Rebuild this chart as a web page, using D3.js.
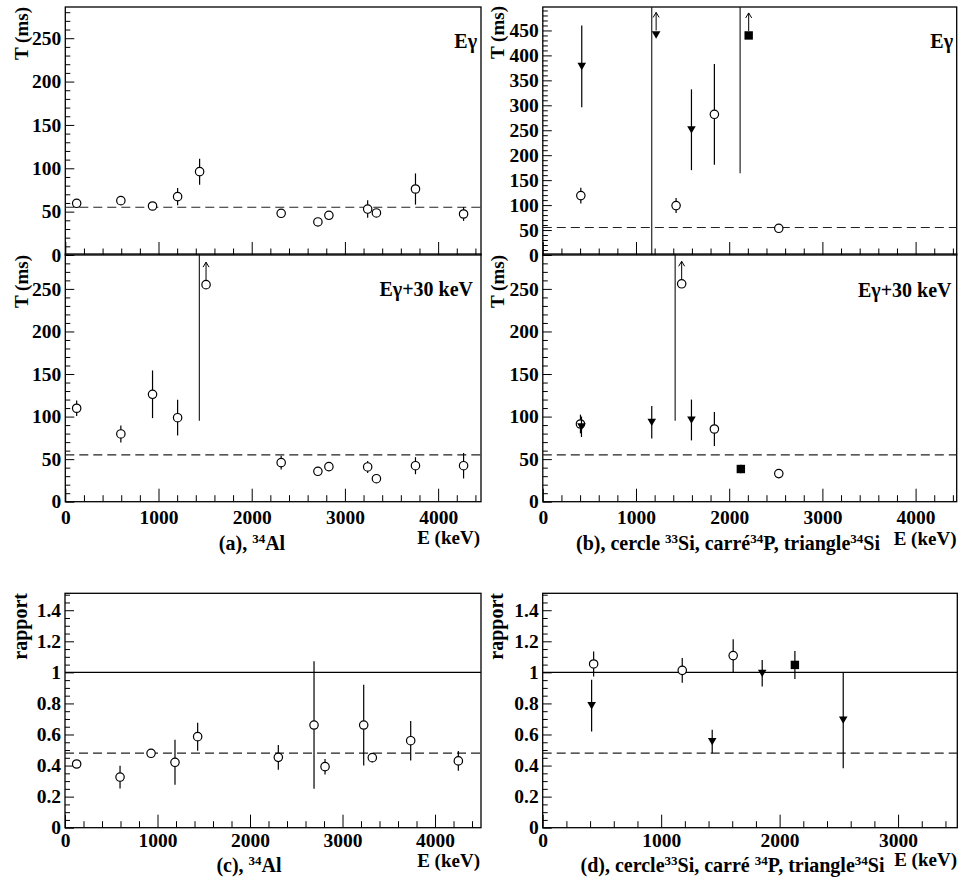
<!DOCTYPE html>
<html>
<head>
<meta charset="utf-8">
<script src="https://cdn.jsdelivr.net/npm/d3@7"></script>
<style>
  html, body { margin: 0; padding: 0; background: #fff; }
  svg { display: block; }
  svg text { font-family: "Liberation Serif", "Times New Roman", Times, serif !important; font-weight: bold; }
</style>
</head>
<body>
<script>
// ---------------- DATA ----------------
// Panel (a): 34Al, T (ms) vs E (keV)
const eAl      = [122, 596, 936, 1205, 1441, 2316, 2710, 2828, 3244, 3338, 3757, 4273];
const tAlEg    = [59.6, 62.7, 56.5, 67.3, 96.1, 48.1, 38.1, 45.8, 53.0, 48.5, 76.1, 47.3];
const errAlEg  = [3, 3, 3, 10, 15, 3, 3, 3, 10, 3, 18, 8];
const tAl30    = [109.8, 79.6, 126.2, 98.7, null, 45.9, 35.7, 41.2, 40.8, 27.0, 42.3, 42.3];
const errAl30  = [9, 10, 28, 21, null, 8, 2, 2, 7, 2, 10, 15];
// off-scale point in (a) E+30 : lower bound of its error bar, and its arrow indicator
const offAl30E = [1438], offAl30Low = [95];
const indAl30E = [1510], indAl30T = [255];

// Panel (b): Eγ  (circle 33Si, square 34P, triangle 34Si)
const eSi33Eg = [408, 1430, 1841, 2532], tSi33Eg = [119, 99, 282, 53.5], errSi33Eg = [16, 15, 101, 3];
const eSi34Eg = [418, 1595],             tSi34Eg = [378, 251],           errSi34Eg = [82, 81];
const offSi34EgE = [1169], offSi34EgLow = [-10];
const indSi34EgE = [1216], indSi34EgT = [441];
const offP34EgE = [2117], offP34EgLow = [164];
const indP34EgE = [2209], indP34EgT = [440];

// Panel (b): Eγ+30 keV
const eSi33_30 = [404, 1841, 2532], tSi33_30 = [91.3, 85.4, 33], errSi33_30 = [11, 20, 2];
const eSi34_30 = [415, 1169, 1595], tSi34_30 = [88, 93.3, 96],  errSi34_30 = [12, 19, 24];
const eP34_30  = [2125],            tP34_30  = [38.4],          errP34_30  = [5];
const offSi33_30E = [1420], offSi33_30Low = [95];
const indSi33_30E = [1490], indSi33_30T = [256];

// Panel (c): ratio 34Al
const eAlR   = [126, 595, 930, 1189, 1434, 2306, 2692, 2811, 3229, 3322, 3737, 4252];
const rAl    = [0.410, 0.326, 0.479, 0.421, 0.586, 0.453, 0.661, 0.393, 0.661, 0.451, 0.560, 0.430];
const errRAl = [0.02, 0.073, 0.02, 0.145, 0.09, 0.08, 0.41, 0.05, 0.26, 0.03, 0.127, 0.063];

// Panel (d): ratio
const eSi33R = [430, 1178, 1608],        rSi33 = [1.054, 1.013, 1.108],        errRSi33 = [0.08, 0.08, 0.105];
const eSi34R = [413, 1431, 1853, 2537],  rSi34 = [0.786, 0.555, 0.994, 0.693], errRSi34 = [0.167, 0.075, 0.085, 0.31];
const eP34R  = [2129],                   rP34  = [1.048],                      errRP34  = [0.09];

// reference lines
const tRef = 55, ratioRef = 0.48, unity = 1;

// tick label values
const tTicksA = [0, 50, 100, 150, 200, 250];
const tTicksB = [0, 50, 100, 150, 200, 250, 300, 350, 400, 450];
const rTicks  = [0, 0.2, 0.4, 0.6, 0.8, 1, 1.2, 1.4];
const eTicks  = [0, 1000, 2000, 3000, 4000];
const eTicksD = [0, 1000, 2000, 3000];

// ---------------- DRAW ----------------
const W = 959, H = 880;
const TICK_FS = 19.5;
const svg = d3.select("body").append("svg").attr("width", W).attr("height", H)
  .style("font-family", '"Liberation Serif", "Times New Roman", serif').style("font-weight", "bold");
svg.append("rect").attr("width", W).attr("height", H).attr("fill", "#fff");

function range(a, b, s) { const out = []; for (let v = a; v <= b + 1e-9; v += s) out.push(+v.toFixed(6)); return out; }

function makePanel(o) {
  const x = d3.scaleLinear().domain([0, o.xmax]).range([o.x0, o.x1]);
  const y = d3.scaleLinear().domain([0, o.ymax]).range([o.y1, o.y0]);
  const g = svg.append("g");
  const fmt = v => (+v.toFixed(3)).toString();
  const yMinor = range(0, o.ymax, o.yMinor).filter(v => !o.yTicks.some(t => Math.abs(t - v) < 1e-6));
  g.append("g").attr("transform", `translate(${o.x0},0)`)
    .call(d3.axisLeft(y).tickValues(yMinor).tickSize(-5).tickFormat(""))
    .call(s => s.select(".domain").remove());
  g.append("g").attr("transform", `translate(${o.x0},0)`)
    .call(d3.axisLeft(y).tickValues(o.yTicks).tickSize(-9).tickPadding(4).tickFormat(o.yLabels ? fmt : ""))
    .call(s => s.select(".domain").remove())
    .attr("font-size", TICK_FS)
    .call(s => s.selectAll("text").attr("fill", "#000"));
  const xMinor = range(0, o.xmax, 200).filter(v => v % 1000 !== 0);
  g.append("g").attr("transform", `translate(0,${o.y1})`)
    .call(d3.axisBottom(x).tickValues(xMinor).tickSize(-6.5).tickFormat(""))
    .call(s => s.select(".domain").remove());
  g.append("g").attr("transform", `translate(0,${o.y1})`)
    .call(d3.axisBottom(x).tickValues(o.xTicks).tickSize(-13).tickPadding(o.xPad || 8).tickFormat(o.xLabels ? fmt : ""))
    .call(s => s.select(".domain").remove())
    .attr("font-size", TICK_FS)
    .call(s => s.selectAll("text").attr("fill", "#000"));
  g.selectAll(".tick line").attr("stroke", "#000").attr("stroke-width", 1);
  g.append("rect").attr("x", o.x0).attr("y", o.y0).attr("width", o.x1 - o.x0).attr("height", o.y1 - o.y0)
    .attr("fill", "none").attr("stroke", "#000").attr("stroke-width", 1.3);
  return { x, y, g, o };
}

function hline(p, v, dashed) {
  p.g.append("line").attr("x1", p.o.x0).attr("x2", p.o.x1).attr("y1", p.y(v)).attr("y2", p.y(v))
    .attr("stroke", dashed ? "#222" : "#000").attr("stroke-width", 1.1)
    .attr("stroke-dasharray", dashed ? "9,5" : null);
}

function clampY(p, v) { return Math.max(p.o.y0, Math.min(p.o.y1, p.y(v))); }

function marker(p, cx, cy, shape) {
  if (shape === "circle") {
    p.g.append("circle").attr("cx", cx).attr("cy", cy).attr("r", 4.2)
      .attr("fill", "#fff").attr("stroke", "#000").attr("stroke-width", 1.2);
  } else if (shape === "tri") {
    p.g.append("path").attr("d", `M${cx - 4.3},${cy - 3.6}L${cx + 4.3},${cy - 3.6}L${cx},${cy + 3.8}Z`).attr("fill", "#000");
  } else {
    p.g.append("rect").attr("x", cx - 4.2).attr("y", cy - 4.2).attr("width", 8.4).attr("height", 8.4).attr("fill", "#000");
  }
}

function series(p, es, vs, errs, shape) {
  es.forEach((e, i) => {
    if (vs[i] == null) return;
    const cx = p.x(e);
    p.g.append("line").attr("x1", cx).attr("x2", cx)
      .attr("y1", clampY(p, vs[i] - errs[i])).attr("y2", clampY(p, vs[i] + errs[i]))
      .attr("stroke", "#000").attr("stroke-width", 1.2);
  });
  es.forEach((e, i) => {
    if (vs[i] == null) return;
    marker(p, p.x(e), p.y(vs[i]), shape);
  });
}

function offscale(p, es, lows) {
  es.forEach((e, i) => {
    const cx = p.x(e);
    p.g.append("line").attr("x1", cx).attr("x2", cx).attr("y1", clampY(p, lows[i])).attr("y2", p.o.y0)
      .attr("stroke", "#111").attr("stroke-width", 1.1);
  });
}

function indicator(p, es, vs, shape) {
  es.forEach((e, i) => {
    const cx = p.x(e), cy = p.y(vs[i]);
    const top = cy - 4.5 - 18, bot = cy - 4.5;
    p.g.append("line").attr("x1", cx).attr("x2", cx).attr("y1", bot).attr("y2", top)
      .attr("stroke", "#000").attr("stroke-width", 1);
    p.g.append("path").attr("d", `M${cx - 3},${top + 5}L${cx},${top}L${cx + 3},${top + 5}`)
      .attr("fill", "none").attr("stroke", "#000").attr("stroke-width", 1);
    marker(p, cx, cy, shape);
  });
}

function text(x, y, str, size, anchor) {
  return svg.append("text").attr("x", x).attr("y", y).attr("font-size", size)
    .attr("text-anchor", anchor || "start").attr("fill", "#000").text(str);
}
function vtitle(x, y, str, size) {
  svg.append("text").attr("transform", `translate(${x},${y}) rotate(-90)`)
    .attr("text-anchor", "end").attr("font-size", size).attr("fill", "#000").text(str);
}
function caption(x, y, parts) {
  const t = svg.append("text").attr("x", x).attr("y", y).attr("text-anchor", "middle")
    .attr("font-size", 20).attr("fill", "#000");
  let sup = false;
  parts.forEach(([s, isSup]) => {
    const dy = isSup && !sup ? -7 : (!isSup && sup ? 7 : 0);
    t.append("tspan").attr("dy", dy).attr("font-size", isSup ? 13 : 20).text(s);
    sup = isSup;
  });
}

// ---- panel a top
const pA1 = makePanel({ x0: 65.3, x1: 481, y0: 7, y1: 255, xmax: 4460, ymax: 286,
  yTicks: tTicksA, yMinor: 10, yLabels: true, xTicks: eTicks, xLabels: false });
hline(pA1, tRef, true);
series(pA1, eAl, tAlEg, errAlEg, "circle");

// ---- panel a bottom
const pA2 = makePanel({ x0: 65.3, x1: 481, y0: 254, y1: 501.7, xmax: 4460, ymax: 291,
  yTicks: tTicksA, yMinor: 10, yLabels: true, xTicks: eTicks, xLabels: true, xPad: 8 });
hline(pA2, tRef, true);
offscale(pA2, offAl30E, offAl30Low);
series(pA2, eAl, tAl30, errAl30, "circle");
indicator(pA2, indAl30E, indAl30T, "circle");

// ---- panel b top
const pB1 = makePanel({ x0: 542.8, x1: 956.7, y0: 7, y1: 255, xmax: 4441, ymax: 497,
  yTicks: tTicksB, yMinor: 10, yLabels: true, xTicks: eTicks, xLabels: false });
hline(pB1, tRef, true);
offscale(pB1, offSi34EgE, offSi34EgLow);
offscale(pB1, offP34EgE, offP34EgLow);
series(pB1, eSi33Eg, tSi33Eg, errSi33Eg, "circle");
series(pB1, eSi34Eg, tSi34Eg, errSi34Eg, "tri");
indicator(pB1, indSi34EgE, indSi34EgT, "tri");
indicator(pB1, indP34EgE, indP34EgT, "square");

// ---- panel b bottom
const pB2 = makePanel({ x0: 542.8, x1: 956.7, y0: 254, y1: 501.7, xmax: 4441, ymax: 291,
  yTicks: tTicksA, yMinor: 10, yLabels: true, xTicks: eTicks, xLabels: true, xPad: 8 });
hline(pB2, tRef, true);
offscale(pB2, offSi33_30E, offSi33_30Low);
series(pB2, eSi33_30, tSi33_30, errSi33_30, "circle");
series(pB2, eSi34_30, tSi34_30, errSi34_30, "tri");
series(pB2, eP34_30, tP34_30, errP34_30, "square");
indicator(pB2, indSi33_30E, indSi33_30T, "circle");

// ---- panel c
const pC = makePanel({ x0: 65, x1: 481, y0: 593.3, y1: 827.7, xmax: 4497, ymax: 1.509,
  yTicks: rTicks, yMinor: 0.05, yLabels: true, xTicks: eTicks, xLabels: true, xPad: 5 });
hline(pC, unity, false);
hline(pC, ratioRef, true);
series(pC, eAlR, rAl, errRAl, "circle");

// ---- panel d
const pD = makePanel({ x0: 542.7, x1: 957.3, y0: 593.3, y1: 827.7, xmax: 3500, ymax: 1.509,
  yTicks: rTicks, yMinor: 0.05, yLabels: true, xTicks: eTicksD, xLabels: true, xPad: 5 });
hline(pD, unity, false);
hline(pD, ratioRef, true);
series(pD, eSi33R, rSi33, errRSi33, "circle");
series(pD, eSi34R, rSi34, errRSi34, "tri");
series(pD, eP34R, rP34, errRP34, "square");

// ---- titles & labels
vtitle(27.5, 7, "T (ms)", 19);
vtitle(27.5, 255, "T (ms)", 19);
vtitle(503.5, 6, "T (ms)", 19);
vtitle(503.5, 255, "T (ms)", 19);
vtitle(26.5, 593, "rapport", 20);
vtitle(503, 593, "rapport", 20);

text(477, 48.3, "Eγ", 20, "end");
text(953, 48.3, "Eγ", 20, "end");
text(473, 296, "Eγ+30 keV", 20, "end");
text(951.5, 296.5, "Eγ+30 keV", 20, "end");

text(480, 544, "E (keV)", 19, "end");
text(956.5, 544.5, "E (keV)", 19, "end");
text(480, 866.5, "E (keV)", 19, "end");
text(957, 866, "E (keV)", 19, "end");

caption(252, 550, [["(a), ", false], ["34", true], ["Al", false]]);
caption(728, 550, [["(b), cercle ", false], ["33", true], ["Si, carré", false], ["34", true], ["P, triangle", false], ["34", true], ["Si", false]]);
caption(249, 872, [["(c), ", false], ["34", true], ["Al", false]]);
caption(732.5, 871.5, [["(d), cercle", false], ["33", true], ["Si, carré ", false], ["34", true], ["P, triangle", false], ["34", true], ["Si", false]]);
</script>
</body>
</html>
